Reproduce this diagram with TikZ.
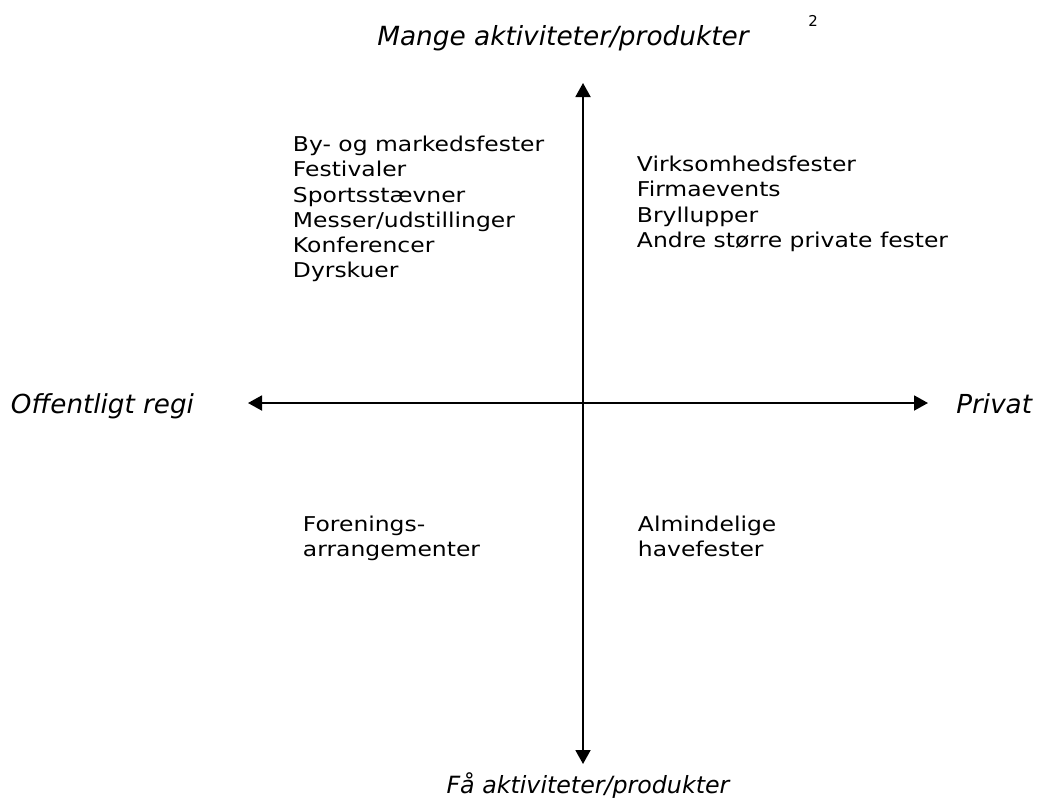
\documentclass[tikz,border=0pt]{standalone}
\usepackage{fontspec}
\setmainfont{DejaVu Sans}
\newfontfamily\widefont{DejaVu Sans}[FakeStretch=1.15]
\usepackage{tikz}
\usetikzlibrary{arrows.meta}
\usetikzlibrary{positioning}
\tikzset{%
  >={Triangle[width=0.3cm,length=0.28cm]},
  % Specifications for style of nodes:
      axislabel/.style = {inner sep=0pt, anchor=base, font=\fontsize{14}{17}\selectfont\itshape},
      eventlist/.style = {inner sep=0pt, anchor=north west, align=left,
                          font=\widefont\fontsize{11.6}{14.4}\selectfont},
}

\begin{document}
\begin{tikzpicture}[x=0.02cm, y=-0.02cm, line width=1.1pt]
\useasboundingbox (0,0) rectangle (1037,798);

\coordinate (Top)    at (583,83);
\coordinate (Bottom) at (583,764);
\coordinate (Left)   at (248,403);
\coordinate (Right)  at (928,403);

\node (Mange)  [axislabel, font=\fontsize{15}{18}\selectfont\itshape] at (563,45)  {Mange aktiviteter/produkter};
\node (Note)   [inner sep=0pt, font=\fontsize{8.5}{10}\selectfont] at (813,21) {2};
\node (Faa)    [axislabel, font=\fontsize{13.5}{16}\selectfont\itshape] at (588,793) {Få aktiviteter/produkter};
\node (Offentligt) [axislabel, anchor=base west, font=\fontsize{14.9}{18}\selectfont\itshape] at (10,413)  {Offentligt regi};
\node (Privat)     [axislabel, anchor=base east, font=\fontsize{14.9}{18}\selectfont\itshape] at (1033,413) {Privat};

\node (Offentlige) [eventlist] at (292,135) {By- og markedsfester\\Festivaler\\Sportsstævner\\Messer/udstillinger\\Konferencer\\Dyrskuer};
\node (Private)    [eventlist] at (636,155) {Virksomhedsfester\\Firmaevents\\Bryllupper\\Andre større private fester};
\node (Forening)   [eventlist] at (302,515) {Forenings-\\arrangementer};
\node (Have)       [eventlist] at (637,515) {Almindelige\\havefester};

\draw[<->]  (Top) -- (Bottom);
\draw[<->]  (Left) -- (Right);
  \end{tikzpicture}
\end{document}
